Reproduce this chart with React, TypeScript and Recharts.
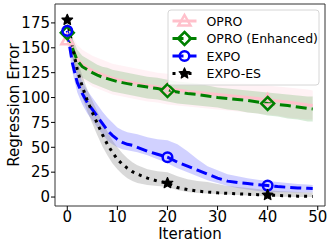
import React from "react";
import { Area, ComposedChart, Line, ReferenceArea, XAxis, YAxis } from "recharts";

const iterations = [0, 1, 2, 3, 4, 5, 6, 7, 8, 9, 10, 11, 12, 13, 14, 16, 18, 20, 22, 24, 26, 28, 30, 32, 34, 36, 38, 40, 42, 44, 46, 48, 49];

// OPRO
const oproMean = [158, 150, 139, 133, 130, 127, 125, 123, 121, 119.5, 118, 117, 116, 115, 114, 112, 110.5, 109, 107.5, 106, 105, 104, 103, 102, 101, 100, 99, 97.5, 96.5, 95.5, 94, 92.5, 92];
const oproLow = [150, 138, 125, 118, 115, 111, 109, 107, 105, 103, 102, 101, 100, 99, 98, 96, 95, 93, 92, 91, 90, 89, 88, 87, 86, 85, 84, 83, 82, 80, 79, 78, 78];
const oproHigh = [166, 162, 153, 148, 145, 142, 140, 138, 136, 134, 133, 132, 131, 130, 129, 127, 125, 124, 122, 120, 119, 118, 117, 116, 115, 114, 113, 112, 111, 110, 109, 108, 107];

// OPRO (Enhanced)
const enhMean = [165, 150, 137, 131, 128, 125, 122.5, 120.5, 119, 117.5, 116, 115, 114, 113, 112, 110.5, 109, 107, 105.5, 104, 103, 101.5, 100, 99, 98, 97, 95.5, 94, 93, 92, 90.5, 89, 88.5];
const enhLow = [160, 140, 126, 120, 117, 114, 112, 110, 108, 106, 105, 104, 103, 102, 101, 99, 98, 96, 94, 93, 92, 91, 90, 88, 87, 85, 84, 82, 81, 79, 78, 76, 76];
const enhHigh = [170, 160, 148, 142, 139, 136, 133, 131, 130, 128, 127, 126, 125, 124, 123, 121, 120, 118, 116, 115, 114, 112, 110, 109, 108, 107, 106, 105, 104, 103, 102, 101, 101];

// EXPO
const expoMean = [167, 135, 115, 104, 95, 88, 81, 74, 67, 62, 58, 55, 53, 52, 50, 46, 43, 40, 35, 31, 27, 23, 19, 16, 14.5, 13.5, 12.5, 11.5, 10.5, 9.8, 9.2, 8.8, 8.6];
const expoLow = [162, 126, 105, 93, 84, 77, 70, 63, 57, 53, 50, 48, 47, 46, 45, 42, 38, 34, 29, 25, 21, 17, 14, 11, 9, 7.5, 6, 5, 4.8, 4.7, 4.6, 4.5, 4.5];
const expoHigh = [172, 145, 127, 116, 107, 100, 93, 86, 80, 75, 70, 67, 65, 64, 63, 60, 58, 57, 53, 46, 38, 31, 27, 23, 21, 19, 17.5, 16, 15, 14, 13, 12.5, 12];

// EXPO-ES
const esMean = [178, 152, 128, 111, 97, 85, 74, 63, 53, 45, 38, 33, 29, 25.5, 23, 19, 16, 14, 9.5, 7.5, 6, 5, 4.2, 3.7, 3.2, 2.8, 2.4, 2, 1.6, 1.2, 0.9, 0.7, 0.6];
const esLow = [172, 145, 118, 100, 86, 74, 62, 51, 42, 34, 28, 23, 19, 16, 14, 12, 11, 10, 7, 5, 4, 3.5, 3, 2.5, 2, 1.5, 1, 0.5, 0.3, 0.2, 0.1, 0, 0];
const esHigh = [184, 160, 138, 122, 108, 97, 86, 76, 66, 57, 50, 44, 39, 35, 32, 28, 26, 25, 21, 18, 16, 15, 13, 11, 10, 9, 8, 7, 6, 5.5, 5, 4.5, 4.5];

const xTicks = [0, 10, 20, 30, 40, 50];
const yTicks = [0, 25, 50, 75, 100, 125, 150, 175];
const markerIters = [0, 20, 40];

const legendItems = ["OPRO", "OPRO (Enhanced)", "EXPO", "EXPO-ES"];

const data = iterations.map((it, i) => ({
  iter: it,
  opro: oproMean[i],
  oproBand: [oproLow[i], oproHigh[i]],
  enh: enhMean[i],
  enhBand: [enhLow[i], enhHigh[i]],
  expo: expoMean[i],
  expoBand: [expoLow[i], expoHigh[i]],
  es: esMean[i],
  esBand: [esLow[i], esHigh[i]],
}));

const PINK = "#ffc0cb";
const GREEN = "#008000";
const BLUE = "#0000ff";

function starPoints(cx: number, cy: number, R: number, r: number) {
  const pts: string[] = [];
  for (let k = 0; k < 10; k++) {
    const a = -Math.PI / 2 + (k * Math.PI) / 5;
    const rad = k % 2 === 0 ? R : r;
    pts.push(`${cx + rad * Math.cos(a)},${cy + rad * Math.sin(a)}`);
  }
  return pts.join(" ");
}

function Marker({ kind, cx, cy }: { kind: string; cx: number; cy: number }) {
  if (kind === "triangle")
    return (
      <polygon
        points={`${cx},${cy - 6} ${cx + 6},${cy + 4.5} ${cx - 6},${cy + 4.5}`}
        fill="none"
        stroke={PINK}
        strokeWidth={2.5}
      />
    );
  if (kind === "diamond")
    return (
      <polygon
        points={`${cx},${cy - 6.5} ${cx + 6.5},${cy} ${cx},${cy + 6.5} ${cx - 6.5},${cy}`}
        fill="none"
        stroke={GREEN}
        strokeWidth={2.5}
      />
    );
  if (kind === "circle") return <circle cx={cx} cy={cy} r={4.8} fill="none" stroke={BLUE} strokeWidth={2.5} />;
  return <polygon points={starPoints(cx, cy, 5.6, 2.6)} fill="#000" stroke="#000" strokeWidth={1.2} strokeLinejoin="round" />;
}

const makeDot = (kind: string) => (props: any) => {
  const { cx, cy, payload, index } = props;
  if (!markerIters.includes(payload.iter) || cx == null) return <g key={`d${kind}${index}`} />;
  return (
    <g key={`d${kind}${index}`}>
      <Marker kind={kind} cx={cx} cy={cy} />
    </g>
  );
};

const tickStyle = { fill: "#000", fontSize: 15 };

export default function App() {
  const rowY = [21, 38.5, 56, 73.5];
  const handles = [
    { color: PINK, dash: undefined, kind: "triangle" },
    { color: GREEN, dash: "11 5", kind: "diamond" },
    { color: BLUE, dash: "11 5", kind: "circle" },
    { color: "#000", dash: "3 5", kind: "star" },
  ];
  return (
    <div style={{ position: "absolute", left: 0, top: 0, width: 332, height: 247, fontFamily: "DejaVu Sans", background: "#fff" }}>
      <ComposedChart width={332} height={247} data={data} margin={{ top: 4, right: 7, bottom: 0, left: 0 }}>
        <XAxis
          dataKey="iter"
          type="number"
          domain={[-2.45, 51.45]}
          ticks={xTicks}
          interval={0}
          allowDataOverflow
          axisLine={false}
          tickLine={{ stroke: "#000" }}
          tickSize={4}
          tickMargin={1}
          height={41}
          tick={tickStyle}
        />
        <YAxis
          type="number"
          domain={[-9, 194]}
          ticks={yTicks}
          interval={0}
          allowDataOverflow
          axisLine={false}
          tickLine={{ stroke: "#000" }}
          tickSize={4}
          tickMargin={1}
          width={55}
          tick={tickStyle}
        />
        <Area dataKey="oproBand" type="linear" stroke="none" fill={PINK} fillOpacity={0.2} isAnimationActive={false} activeDot={false} />
        <Line dataKey="opro" type="linear" stroke={PINK} strokeWidth={3} dot={makeDot("triangle")} activeDot={false} isAnimationActive={false} />
        <Area dataKey="enhBand" type="linear" stroke="none" fill={GREEN} fillOpacity={0.16} isAnimationActive={false} activeDot={false} />
        <Line dataKey="enh" type="linear" stroke={GREEN} strokeWidth={3} strokeDasharray="11 5" dot={makeDot("diamond")} activeDot={false} isAnimationActive={false} />
        <Area dataKey="expoBand" type="linear" stroke="none" fill={BLUE} fillOpacity={0.18} isAnimationActive={false} activeDot={false} />
        <Line dataKey="expo" type="linear" stroke={BLUE} strokeWidth={3} strokeDasharray="11 5" dot={makeDot("circle")} activeDot={false} isAnimationActive={false} />
        <Area dataKey="esBand" type="linear" stroke="none" fill="#808080" fillOpacity={0.3} isAnimationActive={false} activeDot={false} />
        <Line dataKey="es" type="linear" stroke="#000" strokeWidth={3} strokeDasharray="3 5" dot={makeDot("star")} activeDot={false} isAnimationActive={false} />
        <ReferenceArea x1={-2.45} x2={51.45} y1={-9} y2={194} fill="none" stroke="#333" strokeWidth={1} ifOverflow="visible" />
      </ComposedChart>
      <svg width={332} height={247} style={{ position: "absolute", left: 0, top: 0, pointerEvents: "none" }}>
        <text x={18.5} y={105} transform="rotate(-90 18.5 105)" textAnchor="middle" fontSize={15} fill="#000">
          Regression Error
        </text>
        <text x={190} y={238.5} textAnchor="middle" fontSize={15} fill="#000">
          Iteration
        </text>
        <rect x={168} y={10} width={151} height={75} rx={3} fill="#fff" fillOpacity={0.8} stroke="#d6d6d6" strokeWidth={1} />
        {legendItems.map((name, i) => {
          const h = handles[i];
          const y = rowY[i];
          return (
            <g key={name}>
              <line x1={172.5} x2={196.5} y1={y} y2={y} stroke={h.color} strokeWidth={3} strokeDasharray={h.dash} />
              <Marker kind={h.kind} cx={184.5} cy={y} />
              <text x={206.5} y={y} dy="0.36em" fontSize={12.5} fill="#000">
                {name}
              </text>
            </g>
          );
        })}
      </svg>
    </div>
  );
}
